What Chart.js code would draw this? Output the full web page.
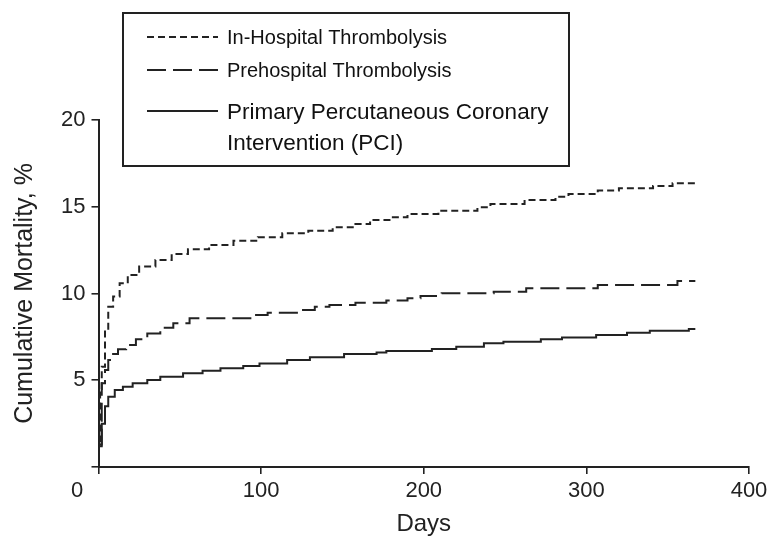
<!DOCTYPE html>
<html>
<head>
<meta charset="utf-8">
<script src="https://cdn.jsdelivr.net/npm/chart.js@4.4.1/dist/chart.umd.min.js"></script>
<style>
  html, body { margin: 0; padding: 0; background: #fff; }
  canvas { display: block; }
</style>
</head>
<body>
<canvas id="c" width="770" height="539"></canvas>
<script>
// ---- data (Kaplan–Meier style steps) ----
const seriesNames = [
  ['In-Hospital Thrombolysis'],
  ['Prehospital Thrombolysis'],
  ['Primary Percutaneous Coronary', 'Intervention (PCI)']
];

const inHospDays = [0, 1, 2, 4, 6, 9, 13, 18, 25, 35, 45, 55, 68, 83, 98, 113, 129, 144, 158, 167, 180, 190, 209, 233, 241, 262, 281, 289, 307, 320, 341, 353, 367];
const inHospVals = [1.5, 4.5, 5.78, 7.9, 9.24, 9.82, 10.59, 11.07, 11.55, 11.93, 12.28, 12.55, 12.8, 13.04, 13.24, 13.47, 13.62, 13.82, 14.0, 14.24, 14.39, 14.58, 14.77, 14.97, 15.16, 15.39, 15.58, 15.73, 15.93, 16.06, 16.2, 16.35, 16.35];

const preHospDays = [0, 2, 4, 6, 8, 12, 17, 23, 30, 38, 46, 56, 96, 104, 122, 133, 142, 158, 177, 190, 198, 211, 243, 263, 307, 356, 367];
const preHospVals = [1.3, 4.82, 5.59, 6.17, 6.51, 6.78, 7.03, 7.36, 7.7, 8.03, 8.28, 8.57, 8.76, 8.89, 9.05, 9.24, 9.34, 9.47, 9.59, 9.72, 9.86, 10.01, 10.1, 10.3, 10.49, 10.72, 10.72];

const pciDays = [0, 2, 4, 6, 10, 15, 21, 30, 38, 52, 64, 75, 89, 99, 116, 130, 151, 171, 177, 205, 220, 237, 249, 272, 285, 306, 325, 339, 363, 367];
const pciVals = [1.2, 2.5, 3.5, 4.05, 4.44, 4.63, 4.82, 5.01, 5.2, 5.4, 5.55, 5.69, 5.82, 5.97, 6.17, 6.32, 6.51, 6.6, 6.69, 6.8, 6.93, 7.13, 7.22, 7.36, 7.47, 7.61, 7.74, 7.86, 7.95, 7.95];

const xTickValues = [0, 100, 200, 300, 400];
const yTickValues = [0, 5, 10, 15, 20];
const xTitle = 'Days';
const yTitle = 'Cumulative Mortality, %';

// ---- build ----
const toPoints = (d, v) => d.map((x, i) => ({ x: x, y: v[i] }));
const FONT = '"Liberation Sans", Arial, Helvetica, sans-serif';
const INK = '#222';

const legendBox = {
  id: 'legendBox',
  afterDraw(chart) {
    const ctx = chart.ctx;
    ctx.save();
    ctx.lineWidth = 2;
    ctx.strokeStyle = INK;
    ctx.setLineDash([]);
    ctx.strokeRect(123, 13, 446, 153);
    const rows = [37, 70, 111];
    const sizes = [20, 20, 22.5];
    chart.data.datasets.forEach((ds, i) => {
      const y = rows[i];
      ctx.lineWidth = 2;
      ctx.setLineDash(ds.borderDash || []);
      ctx.beginPath();
      ctx.moveTo(147, y);
      ctx.lineTo(218, y);
      ctx.stroke();
      ctx.setLineDash([]);
      ctx.font = sizes[i] + 'px ' + FONT;
      ctx.fillStyle = '#111';
      ctx.textBaseline = 'middle';
      ctx.textAlign = 'left';
      seriesNames[i].forEach((t, k) => ctx.fillText(t, 227, y + 1.5 + k * 31.5));
    });
    ctx.restore();
  }
};

const common = { pointRadius: 0, borderWidth: 2, borderColor: INK, stepped: true, fill: false, borderCapStyle: 'butt' };

new Chart(document.getElementById('c'), {
  type: 'line',
  data: {
    datasets: [
      Object.assign({ label: seriesNames[0].join(' '), data: toPoints(inHospDays, inHospVals), borderDash: [7, 4] }, common),
      Object.assign({ label: seriesNames[1].join(' '), data: toPoints(preHospDays, preHospVals), borderDash: [19, 7] }, common),
      Object.assign({ label: seriesNames[2].join(' '), data: toPoints(pciDays, pciVals), borderDash: [] }, common)
    ]
  },
  options: {
    responsive: false,
    animation: false,
    events: [],
    layout: { padding: { top: 120, right: 21, left: 0, bottom: 0 } },
    plugins: { legend: { display: false }, tooltip: { enabled: false }, title: { display: false } },
    scales: {
      x: {
        type: 'linear',
        min: 0, max: 400,
        afterBuildTicks(s) { s.ticks = xTickValues.map(v => ({ value: v })); },
        ticks: {
          autoSkip: false,
          maxRotation: 0,
          padding: 4,
          color: INK,
          font: { family: FONT, size: 22 },
          callback: (v) => v === 0 ? '0' + '       ' : String(v)
        },
        grid: { display: true, drawOnChartArea: false, tickLength: 7, color: INK, lineWidth: 1.6 },
        border: { display: true, color: INK, width: 2 },
        title: { display: true, text: xTitle, color: INK, font: { family: FONT, size: 24 }, padding: { top: 0, bottom: 0 } },
        afterFit(s) { s.height = 72; s.paddingLeft = 0; s.paddingRight = 0; }
      },
      y: {
        type: 'linear',
        min: 0, max: 20,
        afterBuildTicks(s) { s.ticks = yTickValues.map(v => ({ value: v })); },
        ticks: {
          padding: 6,
          color: INK,
          font: { family: FONT, size: 22 },
          callback: (v) => v === 0 ? '' : String(v)
        },
        grid: { display: true, drawOnChartArea: false, tickLength: 7, color: INK, lineWidth: 1.6 },
        border: { display: true, color: INK, width: 2 },
        title: { display: true, text: yTitle, color: INK, font: { family: FONT, size: 25 }, padding: { top: 10, bottom: 0 } },
        afterFit(s) { s.width = 98.5; s.paddingTop = 0; s.paddingBottom = 0; }
      }
    }
  },
  plugins: [legendBox]
});
</script>
</body>
</html>
